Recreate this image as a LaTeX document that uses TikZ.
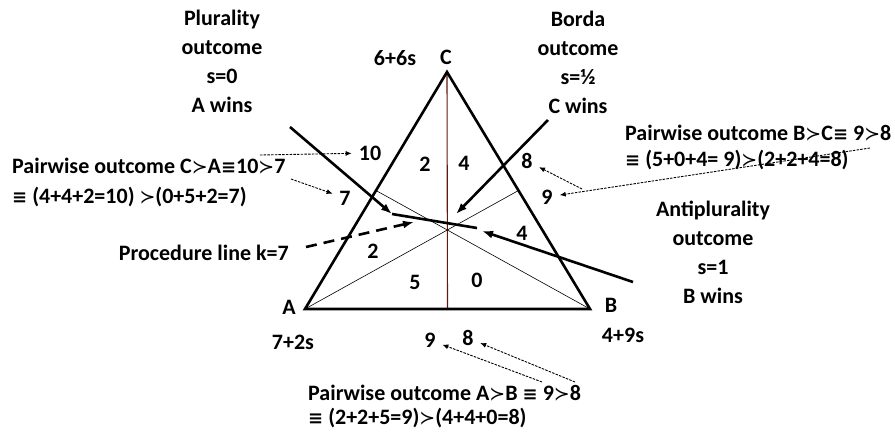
\documentclass[tikz,border=0pt]{standalone}
\usepackage{fontspec}
\setmainfont{Carlito}
\newfontfamily\symfont{DejaVu Sans}
\usetikzlibrary{arrows.meta,calc}
\newcommand{\sucsym}{{\symfont\mdseries\fontsize{19}{22}\selectfont ≻}}
\newcommand{\eqvsym}{{\symfont\bfseries\fontsize{18}{22}\selectfont ≡}}
\definecolor{medred}{RGB}{95,25,15}
\tikzset{
	txt/.style={font=\bfseries\fontsize{22}{29}\selectfont, inner sep=0pt, align=center},
	lefttxt/.style={txt, anchor=west, align=left},
	side/.style={line width=2.6pt},
	median/.style={line width=0.6pt},
	midline/.style={line width=1.1pt, draw=medred},
	vote/.style={line width=2.6pt, -{Latex[length=11pt,width=8pt]}},
	proc/.style={line width=2.6pt, dash pattern=on 11pt off 7pt, -{Latex[length=11pt,width=8pt]}},
	pair/.style={line width=0.9pt, dash pattern=on 2.5pt off 1.2pt, shorten >=7pt, -{Latex[length=6pt,width=5pt]}}
}

\begin{document}
\begin{tikzpicture}[x=1pt, y=-1pt]
	\useasboundingbox (0,0) rectangle (895,440);
	
	% triangle
	\coordinate (A) at (305,309);
	\coordinate (B) at (590,309);
	\coordinate (C) at (447,72);
	\coordinate (mAB) at ($(A)!0.5!(B)$);
	\coordinate (mBC) at ($(B)!0.5!(C)$);
	\coordinate (mAC) at ($(A)!0.5!(C)$);
	
	\draw[midline] (C) -- (mAB);
	\draw[median] (A) -- (mBC);
	\draw[median] (B) -- (mAC);
	\draw[side] (A) -- (B) -- (C) -- cycle;
	
	% vertex labels
	\node[txt] (la) at (289,307) {A};
	\node[txt] (lb) at (611,305) {B};
	\node[txt] (lc) at (446,57) {C};
	\node[txt] (wa) at (293,342) {7+2s};
	\node[txt] (wb) at (623,335) {4+9s};
	\node[txt] (wc) at (395,58) {6+6s};
	
	% region counts
	\node[txt] (r1) at (425,164) {2};
	\node[txt] (r2) at (464,163) {4};
	\node[txt] (r3) at (373,251) {2};
	\node[txt] (r4) at (522,233) {4};
	\node[txt] (r5) at (415,282) {5};
	\node[txt] (r6) at (477,280) {0};
	
	% pairwise tallies
	\node[txt] (ca) at (370,153) {10};
	\node[txt] (ac) at (345,198) {7};
	\node[txt] (cb) at (527,161) {8};
	\node[txt] (bc) at (547,197) {9};
	\node[txt] (ab) at (430,340) {9};
	\node[txt] (ba) at (468,338) {8};
	
	% outcomes
	\node[txt] (plur) at (222,61) {Plurality\\outcome\\s=0\\A wins};
	\node[txt] (borda) at (578,62) {Borda\\outcome\\s=½\\C wins};
	\node[txt] (anti) at (713,252) {Antiplurality\\outcome\\s=1\\B wins};
	\node[txt, anchor=east] (proclbl) at (289,253) {Procedure line k=7};
	
	\node[lefttxt] (pca1) at (12,166) {Pairwise outcome C\sucsym A\eqvsym10\sucsym7};
	\node[lefttxt] (pca2) at (12,197) {\eqvsym{} (4+4+2=10) \sucsym(0+5+2=7)};
	\node[lefttxt] (pbc1) at (625,133) {Pairwise outcome B\sucsym C\eqvsym{} 9\sucsym8};
	\node[lefttxt] (pbc2) at (625,160) {\eqvsym{} (5+0+4= 9)\sucsym(2+2+4=8)};
	\node[lefttxt] (pab1) at (308,393) {Pairwise outcome A\sucsym B \eqvsym{}  9\sucsym8};
	\node[lefttxt] (pab2) at (308,418) {\eqvsym{} (2+2+5=9)\sucsym(4+4+0=8)};
	
	% procedure line and outcome arrows
	\coordinate (p1) at (392,214);
	\coordinate (p2) at (477,228);
	\coordinate (plfree) at (290,127);
	\coordinate (bdfree) at (548,120);
	\coordinate (bdtip) at (456,214);
	\coordinate (apfree) at (633,282);
	\coordinate (aptip) at (482,231);
	\coordinate (prtip) at (414,222);
	\coordinate (prfree) at (306,247);
	\draw[line width=2.6pt] (p1) -- (p2);
	\draw[vote] (plfree) -- (p1);
	\draw[vote] (bdfree) -- (bdtip);
	\draw[vote] (apfree) -- (aptip);
	\draw[proc] (prfree) -- (prtip);
	
	% pairwise pointers
	\coordinate (caf) at (260,155);
	\coordinate (acf) at (291,179);
	\coordinate (bcf) at (870,148);
	\coordinate (cbf) at (582,189);
	\coordinate (abf) at (542,382);
	\coordinate (baf) at (575,382);
	\draw[pair] (caf) -- (ca);
	\draw[pair] (acf) -- (ac);
	\draw[pair] (bcf) -- (bc);
	\draw[pair] (cbf) -- (cb);
	\draw[pair] (abf) -- (ab);
	\draw[pair] (baf) -- (ba);
\end{tikzpicture}
\end{document}
